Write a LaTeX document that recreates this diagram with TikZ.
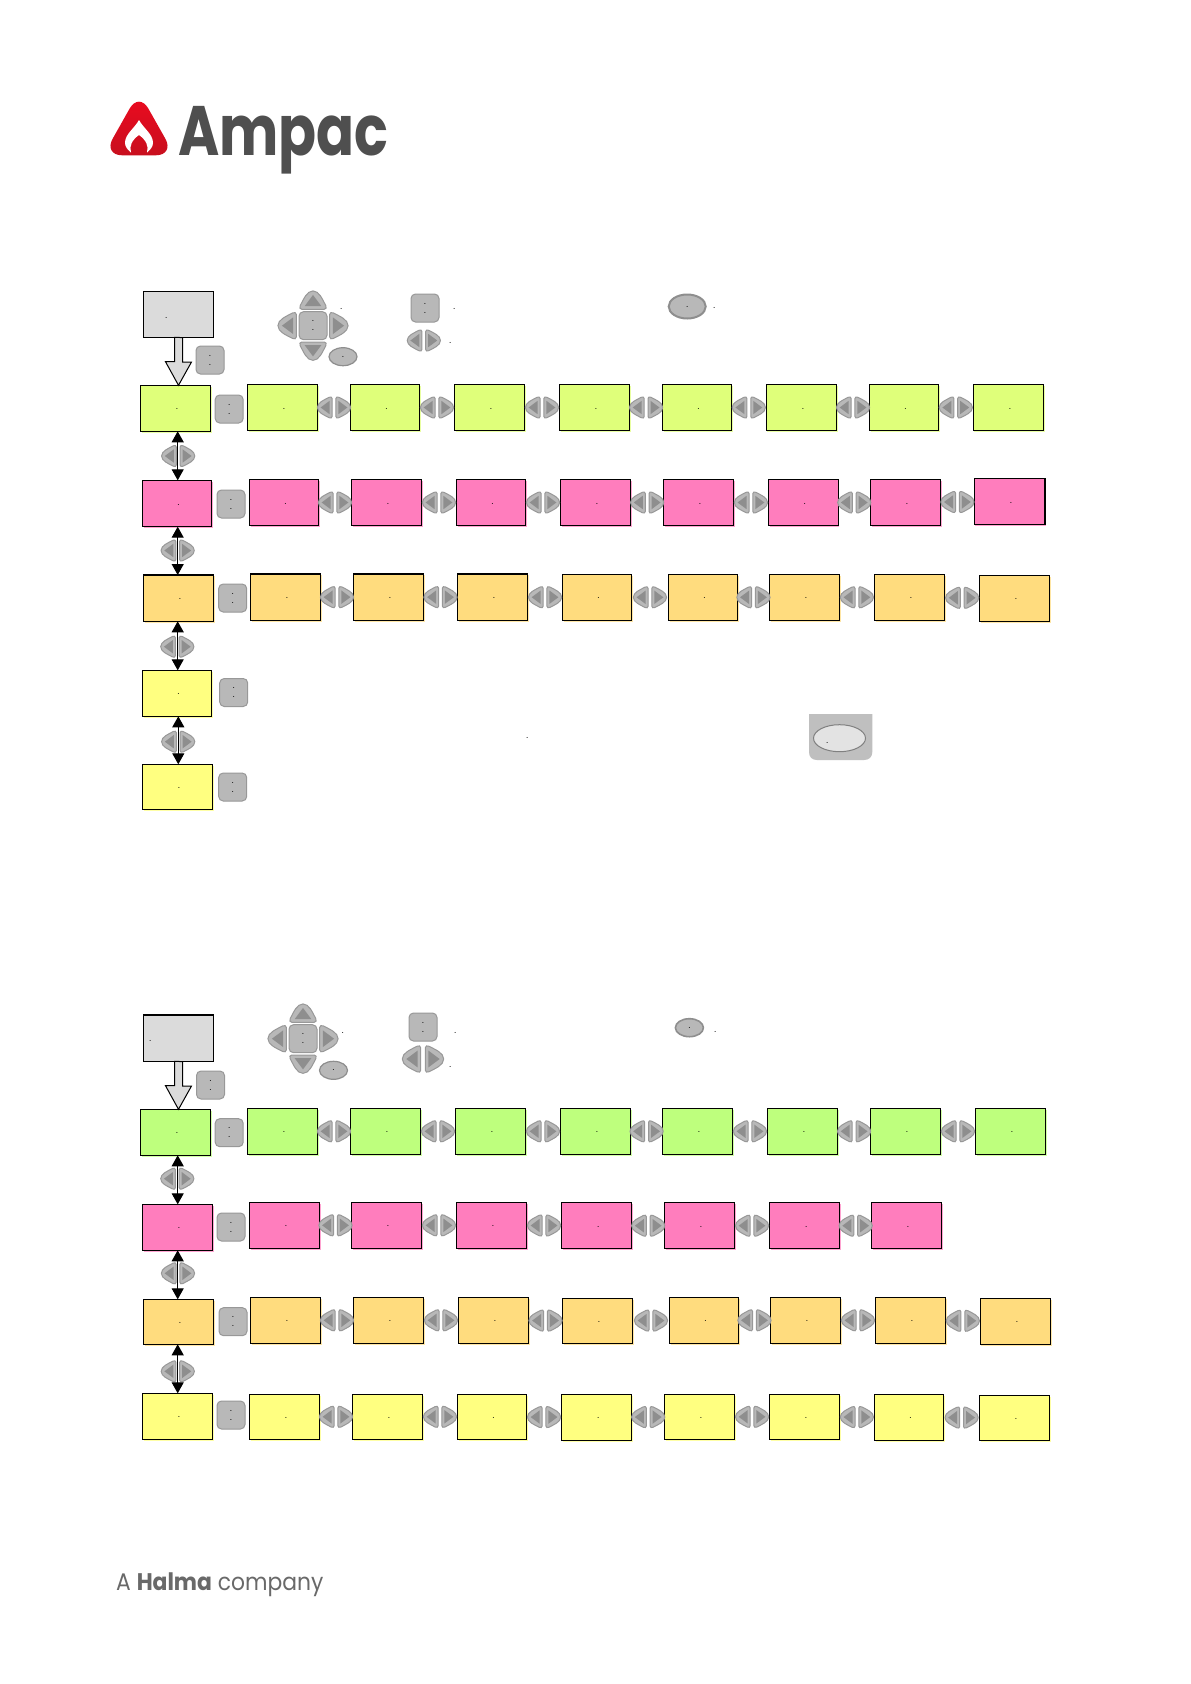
\documentclass[tikz,border=0pt]{standalone}
\usepackage{fontspec}
\newfontfamily\logofont{Poppins}
\usetikzlibrary{arrows.meta,calc,shapes.geometric,shadows}
\definecolor{limefill}{HTML}{DFFF7A}
\definecolor{pinkfill}{HTML}{FF7DBD}
\definecolor{orangefill}{HTML}{FFDC7E}
\definecolor{yellowfill}{HTML}{FFFF80}
\definecolor{greenfill}{HTML}{BEFF7D}
\definecolor{greyfill}{HTML}{DBDBDB}
\definecolor{btnfill}{HTML}{B8B8B8}
\definecolor{btnedge}{HTML}{989898}
\definecolor{btntri}{HTML}{8E8E8E}
\definecolor{logored}{HTML}{EE0A20}
\definecolor{logodark}{HTML}{C80F1E}
\definecolor{logotext}{HTML}{4F4F4F}
\tikzset{
  tinytext/.style={font=\fontsize{10}{9}\selectfont,text=black,inner sep=0pt,outer sep=0pt},
  box/.style={draw=black,line width=1.1pt,tinytext,
    general shadow={shadow xshift=1.2pt,shadow yshift=-1.2pt,fill=#1!70},fill=#1},
  sqbtn/.style={draw=btnedge,fill=btnfill,line width=1pt,rounded corners=4.5pt,
    minimum width=28pt,minimum height=28pt,tinytext,align=center},
  ovalbtn/.style={ellipse,draw=#1,fill=btnfill,tinytext},
  vconn/.style={line width=1.1pt,{Triangle[width=12pt,length=11pt]}-{Triangle[width=12pt,length=11pt]}},
  bigarrow/.style={draw=black,fill=greyfill,line width=1pt,line join=miter},
  dbtn/.pic={
    \draw[draw=btnedge,fill=btnfill,line width=1pt]
      (0,-9) .. controls (0,-10.5) and (-1.5,-11) .. (-3,-10.2)
      .. controls (-8,-7.5) and (-14.7,-5) .. (-14.7,0)
      .. controls (-14.7,5) and (-8,7.5) .. (-3,10.2)
      .. controls (-1.5,11) and (0,10.5) .. (0,9) -- cycle;
    \fill[btntri] (-2.5,-6.7) -- (-2.5,6.7) -- (-11.5,0) -- cycle;
  },
  lrpair/.pic={
    \pic at (-1.9,0) {dbtn};
    \pic[rotate=180] at (1.9,0) {dbtn};
  }
}
\newcommand{\bx}[6]{\node[box=#6,minimum width={(#4-#2)*1pt},minimum height={(#5-#3)*1pt}] (#1) at ({(#2+#4)/2},{(#3+#5)/2}) {\hspace*{3pt}\rule{0pt}{3pt}.};}
\newcommand{\twodots}{.\\.}
\begin{document}
\begin{tikzpicture}[x=1pt,y=-1pt]
\useasboundingbox (0,0) rectangle (1191,1684);
\fill[white] (0,0) rectangle (1191,1684);

% logo
\shade[top color=logored,middle color=logored,bottom color=logodark,rounded corners=19pt]
  (139,92) -- (174.7,155.3) -- (103.3,155.3) -- cycle;
\fill[white] (139,120) .. controls (134,129) and (125,134) .. (125,143)
  .. controls (125,147) and (128,150) .. (131,152.5)
  .. controls (129,146) and (132,140) .. (139,135)
  .. controls (146,140) and (149,146) .. (147,152.5)
  .. controls (150,150) and (153,147) .. (153,143)
  .. controls (153,134) and (144,129) .. (139,120) -- cycle;
\node[anchor=base west,inner sep=0pt,text=logotext,font=\logofont\bfseries\fontsize{70}{70}\selectfont] (ampac) at (178,155) {\scalebox{.8}[1]{Ampac}};

% footer
\node[anchor=base west,inner sep=0pt,text=logotext!85,font=\logofont\fontsize{24}{24}\selectfont] (halma) at (116,1590.7) {\scalebox{.91}[1]{A {\bfseries Halma} company}};

% SECTION 1
\node[draw=black,line width=1.1pt,fill=greyfill,minimum width=70.4pt,minimum height=46pt,inner sep=0pt,outer sep=0pt] (g1) at (178.5,314.3) {};
\node[tinytext] (gd1) at (166.3,318) {.};
\foreach \n/\xa/\ya/\xb/\yb in {1/140.3/385.3/210.7/431.3,2/247.3/384.3/317.7/430.7,3/350.3/384.3/419.7/430.7,4/454.3/384.3/524.7/430.7,5/559.3/384.3/629.8/430.7,6/662.4/384.3/731.5/430.7,7/766.2/384.3/836.7/430.7,8/869.4/384.3/938.4/430.7,9/973.2/384.3/1043.7/430.7}
  {\bx{a\n}{\xa}{\ya}{\xb}{\yb}{limefill}}
\foreach \n/\xa/\ya/\xb/\yb in {1/142.3/480.3/211.7/526.7,2/249.3/479.3/318.7/525.7,3/351.3/479.3/421.7/525.7,4/456.3/479.3/525.7/525.7,5/560.3/479.3/630.8/525.7,6/663.5/479.3/733.6/525.7,7/768.3/479.3/838.1/525.7,8/870.4/479.3/940.6/525.7,9/974.2/478.3/1045/524.7}
  {\bx{b\n}{\xa}{\ya}{\xb}{\yb}{pinkfill}}
\foreach \n/\xa/\ya/\xb/\yb in {1/143.3/575/213.7/621.3,2/250.3/574/320.7/620.3,3/353.3/574/423.7/620.3,4/457.3/574/527.7/620.3,5/562.4/574.3/631.5/620.3,6/668.4/574.3/737.5/620.3,7/769.4/574.3/839.5/620.3,8/874.3/574.3/944.8/620.3,9/979.5/575.3/1049.6/621.3}
  {\bx{c\n}{\xa}{\ya}{\xb}{\yb}{orangefill}}
\bx{d1}{142.3}{670.3}{211.7}{716.3}{yellowfill}
\bx{e1}{142.3}{764.3}{212.7}{809.7}{yellowfill}

\foreach \r in {a,b,c}{
  \foreach \i/\j in {2/3,3/4,4/5,5/6,6/7,7/8,8/9}
    {\pic at ($(\r\i.east)!.5!(\r\j.west)$) {lrpair};}
}
\pic at (178.2,456) {lrpair};
\pic at (177.7,550.5) {lrpair};
\pic at (177.3,646.7) {lrpair};
\pic at (178.2,741.7) {lrpair};
\draw[vconn] ([xshift=2.2pt]a1.south) -- ([xshift=.7pt]b1.north);
\draw[vconn] ([xshift=.7pt]b1.south) -- ([xshift=-.8pt]c1.north);
\draw[vconn] ([xshift=-.8pt]c1.south) -- ([xshift=.7pt]d1.north);
\draw[vconn] ([xshift=1.3pt]d1.south) -- ([xshift=.8pt]e1.north);
\draw[bigarrow] ([xshift=-4pt]g1.south) -- ++(0,24.4) -- ++(-9,0) -- (g1.south |- a1.north) -- ++(13,-23.3) -- ++(-9,0) -- ++(0,-24.4) -- cycle;

\node[sqbtn] (k0) at (210,360) {\twodots};
\node[sqbtn] (k1) at (229.2,409) {\twodots};
\node[sqbtn] (k2) at (231,504) {\twodots};
\node[sqbtn] (k3) at (232.7,598) {\twodots};
\node[sqbtn] (k4) at (233.7,692.5) {\twodots};
\node[sqbtn] (k5) at (232.7,787) {\twodots};

% legend 1
\node[sqbtn] (p1) at (313,325.7) {\twodots};
\pic[scale=1.25] at (296.3,325.7) {dbtn};
\pic[scale=1.25,rotate=180] at (329.7,325.7) {dbtn};
\pic[scale=1.25,rotate=-90] at (313,309.3) {dbtn};
\pic[scale=1.25,rotate=90] at (313,342) {dbtn};
\node[ovalbtn=btntri,line width=1.2pt,minimum width=28pt,minimum height=18pt] (o1) at (343,356.7) {.};
\node[tinytext] (l1) at (341.3,308.8) {.};
\node[sqbtn] (q1) at (425,308) {\twodots};
\node[tinytext] (l2) at (454.3,308.8) {.};
\pic at (423.8,340.5) {lrpair};
\node[tinytext] (l3) at (450.3,342.8) {.};
\node[ovalbtn=btntri,line width=2pt,minimum width=37pt,minimum height=24pt] (o2) at (687.2,306.5) {.};
\node[tinytext] (l4) at (714.3,307.8) {.};
\node[tinytext] (l5) at (527.3,737.8) {.};

% large key
\fill[btnfill!90!white,rounded corners=0pt] (809,714) -- (872.3,714) -- (872.3,752)
  .. controls (872.3,757) and (869,760) .. (864,760) -- (817,760)
  .. controls (812,760) and (809,757) .. (809,752) -- cycle;
\node[ellipse,draw=gray,fill=black!11,line width=1pt,minimum width=52pt,minimum height=27pt,inner sep=0pt] (big) at (839.5,738.2) {};
\node[tinytext] (bigdot) at (827.3,742.7) {.};

% SECTION 2
\node[draw=black,line width=1.1pt,fill=greyfill,minimum width=70.4pt,minimum height=46.3pt,inner sep=0pt,outer sep=0pt] (g2) at (178.5,1038.15) {};
\node[tinytext] (gd2) at (150.3,1041) {.};
\foreach \n/\xa/\ya/\xb/\yb in {1/140.3/1109.3/210.7/1155.3,2/247.3/1108.3/317.7/1154.3,3/350.3/1108.3/420.7/1154.3,4/455.3/1108.3/525.7/1154.3,5/560.3/1108.3/630.8/1154.3,6/662.4/1108.3/732.6/1154.3,7/767.3/1108.3/837.8/1154.3,8/870.4/1108.3/940.6/1154.3,9/975.3/1108.3/1045.8/1154.3}
  {\bx{s\n}{\xa}{\ya}{\xb}{\yb}{greenfill}}
\foreach \n/\xa/\ya/\xb/\yb in {1/142.3/1204.3/212.7/1250.3,2/249.3/1202.3/319.7/1248.3,3/351.3/1202.3/421.7/1248.3,4/456.3/1202.3/526.7/1248.3,5/561.4/1202.7/631.9/1248.7,6/664.5/1202.7/734.7/1248.7,7/769.4/1202.7/839.9/1248.7,8/871.5/1202.7/941.6/1248.7}
  {\bx{t\n}{\xa}{\ya}{\xb}{\yb}{pinkfill}}
\foreach \n/\xa/\ya/\xb/\yb in {1/143.3/1299.3/213.7/1344.3,2/250.3/1297.3/320.7/1343.3,3/353.3/1297.3/423.7/1343.3,4/458.3/1297.3/528.7/1343.3,5/562.4/1298.3/632.6/1343.3,6/669.4/1297.3/738.5/1343.3,7/770.4/1297.3/840.6/1343.3,8/875.3/1297.3/945.5/1343.3,9/980.2/1298.3/1050.7/1344.3}
  {\bx{u\n}{\xa}{\ya}{\xb}{\yb}{orangefill}}
\foreach \n/\xa/\ya/\xb/\yb in {1/142.3/1393.3/212.7/1439.3,2/249.3/1394.3/319.7/1439.3,3/352.3/1394.3/422.7/1439.3,4/457.3/1394.3/526.7/1439.3,5/561.4/1394.3/631.9/1440.3,6/664.5/1394.3/734.7/1439.3,7/769.4/1394.3/839.5/1439.3,8/874.3/1394.3/943.7/1440.3,9/979.5/1395.3/1049.6/1440.3}
  {\bx{v\n}{\xa}{\ya}{\xb}{\yb}{yellowfill}}

\foreach \r in {s,u,v}{
  \foreach \i/\j in {2/3,3/4,4/5,5/6,6/7,7/8,8/9}
    {\pic at ($(\r\i.east)!.5!(\r\j.west)$) {lrpair};}
}
\foreach \i/\j in {2/3,3/4,4/5,5/6,6/7,7/8}
  {\pic at ($(t\i.east)!.5!(t\j.west)$) {lrpair};}
\pic at (177.3,1178.7) {lrpair};
\pic at (178,1273.3) {lrpair};
\pic at (177.8,1371.3) {lrpair};
\draw[vconn] ([xshift=2.2pt]s1.south) -- ([xshift=.2pt]t1.north);
\draw[vconn] ([xshift=.2pt]t1.south) -- ([xshift=-.8pt]u1.north);
\draw[vconn] ([xshift=-.8pt]u1.south) -- ([xshift=.2pt]v1.north);
\draw[bigarrow] ([xshift=-4pt]g2.south) -- ++(0,24.4) -- ++(-9,0) -- (g2.south |- s1.north) -- ++(13,-23.3) -- ++(-9,0) -- ++(0,-24.4) -- cycle;

\node[sqbtn] (m0) at (210.5,1085) {\twodots};
\node[sqbtn] (m1) at (229.2,1132.7) {\twodots};
\node[sqbtn] (m2) at (231,1227) {\twodots};
\node[sqbtn] (m3) at (233,1321.7) {\twodots};
\node[sqbtn] (m4) at (231,1415) {\twodots};

% legend 2
\node[sqbtn] (p2) at (303,1038.7) {\twodots};
\pic[scale=1.25] at (286.3,1038.7) {dbtn};
\pic[scale=1.25,rotate=180] at (319.7,1038.7) {dbtn};
\pic[scale=1.25,rotate=-90] at (303,1022.3) {dbtn};
\pic[scale=1.25,rotate=90] at (303,1055) {dbtn};
\node[ovalbtn=btntri,line width=1.2pt,minimum width=28pt,minimum height=18pt] (o3) at (333.5,1070.3) {.};
\node[tinytext] (n1) at (342.7,1032.8) {.};
\node[sqbtn] (q2) at (423,1027) {\twodots};
\node[tinytext] (n2) at (455.3,1032.8) {.};
\pic[scale=1.25] at (420.7,1059) {dbtn};
\pic[scale=1.25,rotate=180] at (425.3,1059) {dbtn};
\node[tinytext] (n3) at (450.3,1066.8) {.};
\node[ovalbtn=btntri,line width=1.6pt,minimum width=28pt,minimum height=18pt] (o4) at (689.4,1027.7) {.};
\node[tinytext] (n4) at (715.2,1031.5) {.};
\end{tikzpicture}
\end{document}
